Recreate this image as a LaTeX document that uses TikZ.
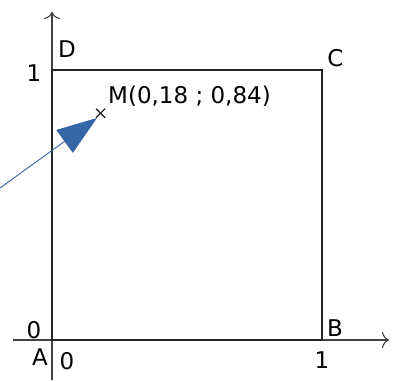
\documentclass[tikz,border=0pt]{standalone}
\usepackage{fontspec}
\setmainfont{DejaVu Sans}
\usetikzlibrary{arrows.meta, calc}
\definecolor{pointerblue}{RGB}{52,101,164}
\begin{document}
\begin{tikzpicture}[
        x=1pt, y=1pt,
        every node/.style={font=\fontsize{23}{27}\selectfont, inner sep=0pt},
        axis/.style={draw=black!75, line width=1.1pt, -{To[length=7pt,width=16pt]}},
        side/.style={draw=black!85, line width=2.4pt, line cap=round},
        pointer/.style={draw=pointerblue, line width=0.9pt, -{Triangle[length=40pt,width=28pt]}},
        cross/.style={draw=black!85, line width=1.3pt}
        ]
        \useasboundingbox (-52,-40) rectangle (344,340);

        % axes
        \coordinate (xstart) at (-39,0);
        \coordinate (xend) at (337,0);
        \coordinate (ystart) at (0,-40);
        \coordinate (yend) at (0,328);
        \draw[axis] (xstart) -- (xend);
        \draw[axis] (ystart) -- (yend);

        % square corners
        \coordinate (A) at (0,0);
        \coordinate (B) at (270,0);
        \coordinate (C) at (270,270);
        \coordinate (D) at (0,270);
        \draw[side] (A) -- (B) -- (C) -- (D) -- cycle;

        % corner and tick labels
        \node (labA) at (-12,-17) {A};
        \node (labB) at (283,12) {B};
        \node (labC) at (283.5,281.5) {C};
        \node (labD) at (15,291) {D};
        \node (xzero) at (15,-21) {0};
        \node (xone) at (270,-20) {1};
        \node (yzero) at (-18,10) {0};
        \node (yone) at (-18,267) {1};

        % point M
        \coordinate (M) at (48.6,226.8);
        \draw[cross] ($(M)+(-4.5,-4.5)$) -- ($(M)+(4.5,4.5)$);
        \draw[cross] ($(M)+(-4.5,4.5)$) -- ($(M)+(4.5,-4.5)$);
        \node[anchor=west] (labM) at (56,243.5) {M(0,18 ; 0,84)};

        % pointer
        \coordinate (pstart) at (-52,152);
        \coordinate (ptip) at (45,222);
        \draw[pointer] (pstart) -- (ptip);
    \end{tikzpicture}
\end{document}
